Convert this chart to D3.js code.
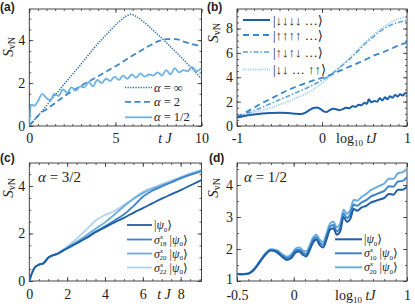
<!DOCTYPE html>
<html><head><meta charset="utf-8">
<script src="https://cdn.jsdelivr.net/npm/d3@7"></script>
<style>
body{margin:0;background:#fff}
svg{display:block}
text{font-family:"Liberation Serif","DejaVu Serif",serif;fill:#222}
.plab{font-family:"Liberation Sans",Arial,sans-serif;font-weight:bold;font-size:12px}
</style>
</head><body><svg id="c" width="415" height="308"></svg>
<script>
// ---------- Panel (a) ----------
const aInfT = [0,0.5,1,2,3,4,4.7,5.2,5.6,5.9,6.2,6.6,7,8,9,10];
const aInfS = [0,0.47,0.95,1.92,2.88,3.85,4.45,4.85,5.1,5.2,5.1,4.88,4.6,3.85,3.05,2.2];
const aTwoT = [0,0.3,0.6,1,1.5,2,3,4,5,6,7,7.5,8,8.5,9,9.5,10];
const aTwoS = [0,0.3,0.55,0.78,1.07,1.37,1.87,2.32,2.78,3.28,3.75,3.95,4.05,4.05,3.92,3.8,3.72];
const aHalfT = [0,0.1,0.3,0.5,0.75,1.0,1.2,1.45,1.7,1.95,2.2,2.45,2.7,2.95,3.2,3.45,3.7,3.95,4.2,4.45,4.7,4.95,5.2,5.45,5.7,5.95,6.2,6.45,6.7,6.95,7.2,7.45,7.7,7.95,8.2,8.45,8.7,8.95,9.2,9.45,9.7,10];
const aHalfS = [0,1.0,0.95,1.15,1.5,1.3,1.2,1.5,1.4,1.7,1.55,1.8,1.65,1.85,1.8,2.05,1.85,2.15,2.0,2.2,2.1,2.3,2.15,2.35,2.2,2.4,2.25,2.45,2.3,2.4,2.35,2.5,2.35,2.6,2.4,2.7,2.5,2.6,2.55,2.75,2.55,2.7];
const aXTicks = [0,5,10];
const aXLabels = ["0","5","10"];
const aYTicks = [0,2,4];
const aYLabels = ["0","2","4"];

// ---------- Panel (b) ----------
const bX = [-1,-0.9,-0.8,-0.7,-0.6,-0.5,-0.4,-0.3,-0.2,-0.1,0,0.1,0.2,0.3,0.4,0.5,0.6,0.7,0.8,0.9,1.0];
const bUpS = [0.75,1.1,1.5,1.9,2.25,2.6,2.95,3.25,3.5,3.75,3.95,4.2,4.5,4.8,5.1,5.4,5.75,6.0,6.3,6.6,6.85];
const bNeelS = [0.72,0.95,1.25,1.55,1.85,2.15,2.45,2.75,3.05,3.4,3.75,4.2,4.75,5.35,6.0,6.7,7.3,7.85,8.25,8.5,8.65];
const bDomS = [0.7,0.9,1.1,1.3,1.5,1.75,2.0,2.3,2.6,3.0,3.5,4.1,4.75,5.4,6.1,6.8,7.45,8.0,8.45,8.8,9.0];
const bDownX = [-1,-0.9,-0.8,-0.7,-0.6,-0.5,-0.4,-0.3,-0.25,-0.2,-0.15,-0.1,-0.06,-0.02,0.02,0.05,0.09,0.13,0.17,0.2,0.24,0.28,0.32,0.36,0.4,0.43,0.46,0.5,0.53,0.55,0.58,0.62,0.65,0.68,0.71,0.74,0.77,0.8,0.83,0.86,0.89,0.92,0.95,0.98,1.0];
const bDownS = [0.7,0.85,0.95,1.02,1.06,1.08,1.06,1.0,0.98,1.08,1.3,1.48,1.52,1.4,1.2,1.15,1.3,1.42,1.38,1.3,1.36,1.5,1.45,1.62,1.58,1.75,1.7,1.9,1.82,2.2,1.95,2.05,2.0,2.28,2.1,2.35,2.2,2.45,2.32,2.55,2.42,2.6,2.5,2.7,2.65];
const bXTicks = [-1,0,1];
const bXLabels = ["-1","0","1"];
const bYTicks = [0,2,4,6,8];
const bYLabels = ["0","2","4","6","8"];

// ---------- Panel (c) ----------
const cT = [0,0.15,0.3,0.5,0.75,1,1.5,2,2.5,3,3.5,4,4.5,5,5.5,6,6.5,7,7.5,8,8.5,9.1];
const cPsi = [0,0.35,0.58,0.68,0.75,0.98,1.15,1.37,1.58,1.8,2.05,2.26,2.47,2.66,2.87,3.07,3.27,3.47,3.65,3.83,4.02,4.25];
const cS18 = [0,0.35,0.58,0.68,0.75,0.98,1.15,1.38,1.6,1.83,2.08,2.3,2.55,2.8,3.15,3.55,3.8,3.98,4.15,4.32,4.47,4.63];
const cS20 = [0,0.35,0.58,0.68,0.75,0.98,1.16,1.4,1.65,1.92,2.2,2.47,2.8,3.15,3.45,3.7,3.88,4.03,4.18,4.34,4.49,4.65];
const cS22 = [0,0.35,0.58,0.68,0.75,0.98,1.17,1.45,1.78,2.15,2.55,2.78,2.95,3.2,3.48,3.76,3.93,4.08,4.23,4.38,4.53,4.69];
const cXTicks = [0,2,4,6,8];
const cXLabels = ["0","2","4","6","8"];
const cYTicks = [0,2,4];
const cYLabels = ["0","2","4"];

// ---------- Panel (d) ----------
const dX = [-0.5,-0.45,-0.4,-0.35,-0.3,-0.25,-0.2,-0.15,-0.1,-0.06,-0.02,0.02,0.05,0.08,0.11,0.14,0.17,0.2,0.23,0.26,0.29,0.32,0.35,0.38,0.41,0.44,0.47,0.5,0.53,0.56,0.6,0.64,0.68,0.72,0.76,0.8,0.84,0.88,0.92,0.96,1.0];
const dPsi = [1.22,1.21,1.23,1.35,1.58,1.82,1.95,1.9,1.75,1.66,1.72,1.9,1.92,1.82,1.77,1.95,2.2,2.3,2.12,2.05,2.3,2.6,2.65,2.45,2.55,3.0,2.85,2.95,3.25,3.2,3.3,3.35,3.45,3.5,3.55,3.6,3.72,3.7,3.85,3.85,3.95];
const dS10 = [1.22,1.21,1.23,1.36,1.6,1.84,1.97,1.93,1.79,1.71,1.78,1.96,1.98,1.89,1.84,2.02,2.27,2.37,2.2,2.13,2.39,2.69,2.75,2.56,2.66,3.11,2.97,3.08,3.39,3.35,3.46,3.53,3.64,3.7,3.76,3.82,3.96,3.95,4.11,4.13,4.25];
const dS20 = [1.23,1.22,1.24,1.38,1.62,1.86,1.99,1.96,1.83,1.76,1.84,2.02,2.05,1.96,1.92,2.1,2.35,2.45,2.29,2.22,2.48,2.79,2.86,2.68,2.78,3.23,3.1,3.22,3.54,3.51,3.63,3.72,3.84,3.91,3.98,4.05,4.2,4.2,4.37,4.4,4.5];
const dXTicks = [-0.5,0,1];
const dXLabels = ["-0.5","0","1"];
const dYTicks = [1,2,3,4];
const dYLabels = ["1","2","3","4"];

// ---------- drawing ----------
const svg = d3.select("#c");
let clipId = 0;
const TICKFONT = 14;

function panel(o){
  const x = d3.scaleLinear().domain(o.xd).range(o.xr);
  const y = d3.scaleLinear().domain(o.yd).range(o.yr);
  const g = svg.append("g");
  const id = "clip" + (clipId++);
  g.append("clipPath").attr("id", id).append("rect")
    .attr("x", o.xr[0]).attr("y", o.yr[1]).attr("width", o.xr[1]-o.xr[0]).attr("height", o.yr[0]-o.yr[1]);
  const [x0,x1] = o.xr, [yb,yt] = o.yr;
  const style = s => s.call(a=>a.select(".domain").remove()).selectAll("line").attr("stroke","#333").attr("stroke-width",0.8);
  g.append("g").attr("transform",`translate(0,${yb})`).call(d3.axisBottom(x).tickValues(o.xMinor).tickSize(-2).tickFormat("")).call(style);
  g.append("g").attr("transform",`translate(0,${yt})`).call(d3.axisTop(x).tickValues(o.xMinor).tickSize(-2).tickFormat("")).call(style);
  g.append("g").attr("transform",`translate(${x0},0)`).call(d3.axisLeft(y).tickValues(o.yMinor).tickSize(-2).tickFormat("")).call(style);
  g.append("g").attr("transform",`translate(${x1},0)`).call(d3.axisRight(y).tickValues(o.yMinor).tickSize(-2).tickFormat("")).call(style);
  const bx = g.append("g").attr("transform",`translate(0,${yb})`)
    .call(d3.axisBottom(x).tickValues(o.xTicks).tickSize(-4).tickPadding(o.xPad).tickFormat((d,i)=>o.xLabels[i]));
  style(bx);
  bx.selectAll("text").attr("font-size",TICKFONT).attr("fill","#222").attr("font-family","Liberation Serif");
  g.append("g").attr("transform",`translate(0,${yt})`).call(d3.axisTop(x).tickValues(o.xTicks).tickSize(-4).tickFormat("")).call(style);
  const ly = g.append("g").attr("transform",`translate(${x0},0)`)
    .call(d3.axisLeft(y).tickValues(o.yTicks).tickSize(-4).tickPadding(4).tickFormat((d,i)=>o.yLabels[i]));
  style(ly);
  ly.selectAll("text").attr("font-size",TICKFONT).attr("fill","#222").attr("font-family","Liberation Serif");
  g.append("g").attr("transform",`translate(${x1},0)`).call(d3.axisRight(y).tickValues(o.yTicks).tickSize(-4).tickFormat("")).call(style);
  g.append("rect").attr("x",x0).attr("y",yt).attr("width",x1-x0).attr("height",yb-yt)
    .attr("fill","none").attr("stroke","#333").attr("stroke-width",0.9);
  const lines = g.append("g").attr("clip-path",`url(#${id})`);
  return {g,x,y,lines,ly};
}

function series(p, xs, ys, st){
  const line = d3.line().x((d,i)=>p.x(xs[i])).y(d=>p.y(d)).curve(d3.curveMonotoneX);
  p.lines.append("path").attr("d", line(ys)).attr("fill","none")
    .attr("stroke", st.c).attr("stroke-width", st.w||1.8)
    .attr("stroke-dasharray", st.dash||null);
}

function legendLine(g, x0, x1, y, st){
  g.append("line").attr("x1",x0).attr("x2",x1).attr("y1",y).attr("y2",y)
    .attr("stroke",st.c).attr("stroke-width",st.w||1.8).attr("stroke-dasharray",st.dash||null);
}

function rich(g, x, y, segs, size, anchor){
  const t = g.append("text").attr("x",x).attr("y",y).attr("font-size",size||13).attr("text-anchor",anchor||"start");
  segs.forEach(s=>{
    const ts = t.append("tspan").text(s.t);
    if(s.i) ts.attr("font-style","italic");
    if(s.s) ts.attr("font-size",s.s);
    if(s.dy) ts.attr("dy",s.dy);
    if(s.dx) ts.attr("dx",s.dx);
  });
  return t;
}

function yTitle(g, x, y){
  const t = g.append("text").attr("transform",`translate(${x},${y}) rotate(-90)`).attr("font-size",15).attr("text-anchor","middle");
  t.append("tspan").text("S").attr("font-style","italic");
  t.append("tspan").text("vN").attr("font-size",10).attr("dy",2);
}

function ket(g, x, y, pre){
  const segs = [];
  if(pre) segs.push({t:"σ",i:true},{t:"x",i:true,s:7,dy:-5},{t:pre,s:7,dy:7.5,dx:-3.5},{t:" |",dy:-2.5});
  else segs.push({t:"|"});
  segs.push({t:"ψ",i:true},{t:"0",s:7,dy:2.5},{t:"⟩",dy:-2.5});
  return rich(g, x, y, segs, 12);
}

// ===== Panel (a) =====
const pa = panel({xd:[0,10], xr:[29.3,201.5], yd:[0,5.45], yr:[126,9], xPad:7,
  xTicks:aXTicks, xLabels:aXLabels, yTicks:aYTicks, yLabels:aYLabels, xMinor:d3.range(0,10.01,0.5), yMinor:d3.range(0,5.45,0.5)});
const stAinf = {c:"#2b6cb8", w:1.5, dash:"1.3,1.3"};
const stA2 = {c:"#3a88cf", w:1.8, dash:"6,3.5"};
const stAh = {c:"#6cb2e4", w:1.8};
series(pa, aInfT, aInfS, stAinf);
series(pa, aTwoT, aTwoS, stA2);
series(pa, aHalfT, aHalfS, stAh);
const aRows = [87.5, 101.8, 117.3];
[stAinf, stA2, stAh].forEach((s,i)=>legendLine(svg, 125, 152, aRows[i], s));
rich(svg, 154, aRows[0]+4, [{t:"α",i:true},{t:" = ∞"}], 12.5);
rich(svg, 154, aRows[1]+4, [{t:"α",i:true},{t:" = 2"}], 12.5);
rich(svg, 154, aRows[2]+4, [{t:"α",i:true},{t:" = 1/2"}], 12.5);
yTitle(svg, 13, 47);
rich(svg, 165, 143, [{t:"t J",i:true}], 14, "middle");
svg.append("text").attr("class","plab").attr("x",0).attr("y",11).text("(a)");

// ===== Panel (b) =====
const pb = panel({xd:[-1,1], xr:[237,407], yd:[0,9.6], yr:[126,9], xPad:7,
  xTicks:bXTicks, xLabels:bXLabels, yTicks:bYTicks, yLabels:bYLabels, xMinor:d3.range(-1,1.001,0.1), yMinor:d3.range(0,9.6,0.5)});
const stBdown = {c:"#1d5fab", w:2};
const stBup = {c:"#3587d0", w:1.8, dash:"6,4"};
const stBneel = {c:"#5aa5df", w:1.6, dash:"5,2,1.5,2"};
const stBdom = {c:"#a6cdef", w:1.8, dash:"1.2,1.2"};
series(pb, bX, bDomS, stBdom);
series(pb, bX, bNeelS, stBneel);
series(pb, bX, bUpS, stBup);
series(pb, bDownX, bDownS, stBdown);
legendLine(svg, 243, 270, 20, stBdown);
legendLine(svg, 243, 270, 35, stBup);
legendLine(svg, 243, 270, 52, stBneel);
legendLine(svg, 243, 270, 69.5, stBdom);
rich(svg, 273, 24.5, [{t:"|↓↓↓↓ …⟩"}], 13);
rich(svg, 273, 39.5, [{t:"|↑↑↑↑ …⟩"}], 13);
rich(svg, 273, 56.5, [{t:"|↑↓↑↓ …⟩"}], 13);
rich(svg, 273, 74, [{t:"|↓↓ … ↑↑⟩"}], 13);
yTitle(svg, 218, 33);
rich(svg, 336, 143, [{t:"log"},{t:"10",s:9,dy:3},{t:" tJ",i:true,dy:-3}], 14, "start");
svg.append("text").attr("class","plab").attr("x",207).attr("y",11).text("(b)");

// ===== Panel (c) =====
const pc = panel({xd:[0,9.1], xr:[29.3,201.5], yd:[0,4.97], yr:[281,163], xPad:8,
  xTicks:cXTicks, xLabels:cXLabels, yTicks:cYTicks, yLabels:cYLabels, xMinor:d3.range(0,9.1,0.5), yMinor:d3.range(0,4.97,0.5)});
const stC0 = {c:"#1f5ea8", w:1.8};
const stC18 = {c:"#3b86c8", w:1.8};
const stC20 = {c:"#6aaddf", w:1.8};
const stC22 = {c:"#afd3ee", w:1.8};
series(pc, cT, cS22, stC22);
series(pc, cT, cS20, stC20);
series(pc, cT, cS18, stC18);
series(pc, cT, cPsi, stC0);
const cRows = [225, 239.5, 253.5, 267.5];
[stC0, stC18, stC20, stC22].forEach((s,i)=>legendLine(svg, 127, 152, cRows[i], s));
ket(svg, 154, cRows[0]+4, null);
["18","20","22"].forEach((n,i)=>ket(svg, 154, cRows[i+1]+4, n));
rich(svg, 38, 181.5, [{t:"α",i:true},{t:" = 3/2"}], 15);
yTitle(svg, 13, 188);
rich(svg, 164, 299, [{t:"t J",i:true}], 14, "middle");
svg.append("text").attr("class","plab").attr("x",0).attr("y",162).text("(c)");

// ===== Panel (d) =====
const pd = panel({xd:[-0.5,1], xr:[237,407], yd:[1,4.69], yr:[281,163], xPad:9,
  xTicks:dXTicks, xLabels:dXLabels, yTicks:dYTicks, yLabels:dYLabels, xMinor:d3.range(-0.5,1.001,0.1), yMinor:d3.range(1,4.69,0.5)});
pd.ly.selectAll("text").filter(d=>d===1).attr("dy","0.2em");
const stD0 = {c:"#1f5ea8", w:2};
const stD10 = {c:"#3b86c8", w:2};
const stD20 = {c:"#6aaddf", w:2};
series(pd, dX, dS20, stD20);
series(pd, dX, dS10, stD10);
series(pd, dX, dPsi, stD0);
const dRows = [239.3, 253.3, 267.3];
[stD0, stD10, stD20].forEach((s,i)=>legendLine(svg, 335, 362, dRows[i], s));
ket(svg, 364, dRows[0]+4, null);
["10","20"].forEach((n,i)=>ket(svg, 364, dRows[i+1]+4, n));
rich(svg, 244, 182, [{t:"α",i:true},{t:" = 1/2"}], 15);
yTitle(svg, 218, 188);
rich(svg, 335, 299.5, [{t:"log"},{t:"10",s:9,dy:3},{t:" tJ",i:true,dy:-3}], 14, "start");
svg.append("text").attr("class","plab").attr("x",209).attr("y",162).text("(d)");
</script></body></html>
